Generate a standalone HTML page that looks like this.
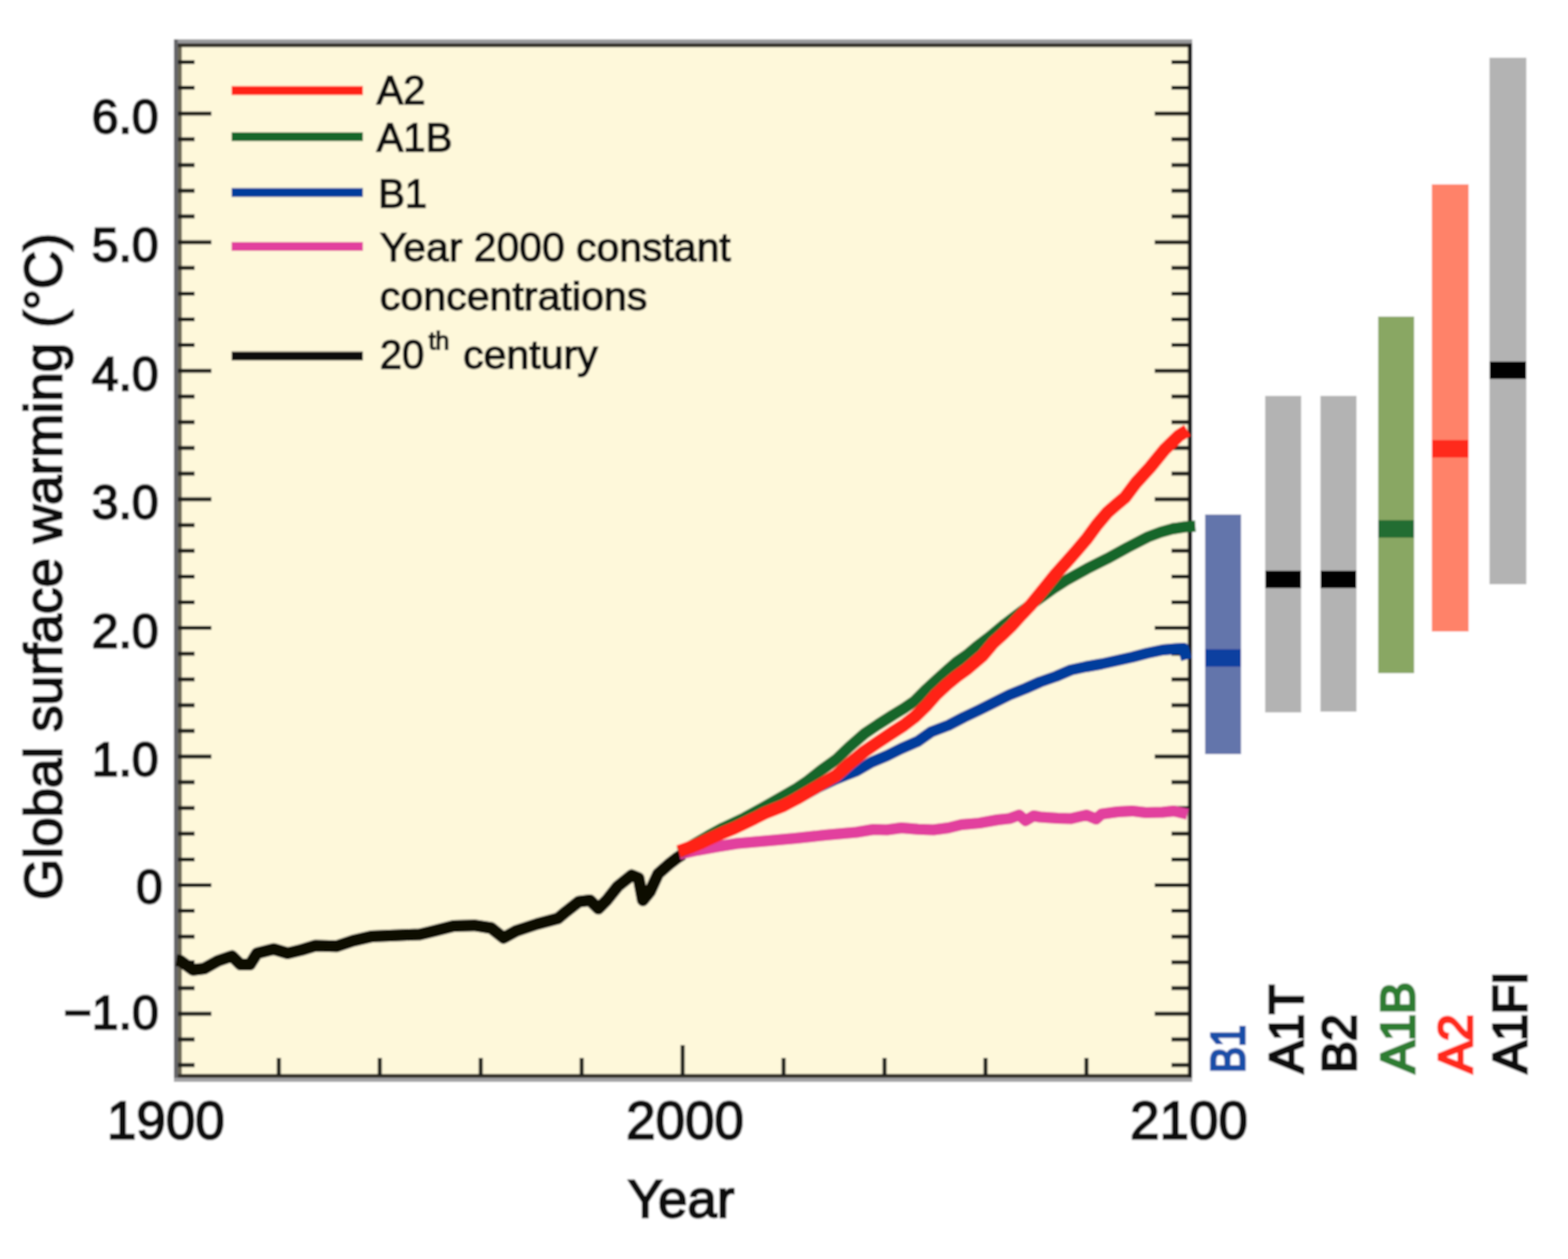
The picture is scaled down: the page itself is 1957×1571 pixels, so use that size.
<!DOCTYPE html>
<html><head><meta charset="utf-8"><title>Global surface warming</title>
<style>html,body{margin:0;padding:0;background:#fff;overflow:hidden;}svg{display:block;}</style>
</head><body>
<svg width="1957" height="1571" viewBox="0 0 1957 1571" font-family="'Liberation Sans', Arial, Helvetica, sans-serif">
<defs><filter id="bl" x="0" y="0" width="1957" height="1571" filterUnits="userSpaceOnUse"><feGaussianBlur stdDeviation="1.3"/></filter></defs>
<g filter="url(#bl)">
<rect width="1957" height="1571" fill="#fff"/>
<rect x="217" y="49" width="1271" height="5" fill="#9a9a9c"/>
<rect x="217" y="49" width="5" height="1301" fill="#656568"/>
<rect x="217" y="1345" width="1271" height="5" fill="#a2a2a4"/>
<rect x="222" y="54" width="1266" height="1291" fill="#34312a"/>
<rect x="222" y="59" width="5" height="1281" fill="#6c6855"/>
<rect x="1482.5" y="54" width="5" height="1291" fill="#1c1c1c"/>
<rect x="227" y="59" width="1255.5" height="1281" fill="#fef8da"/>
<path d="M222 1329.1H243M1462 1329.1H1484M222 1297.1H243M1462 1297.1H1484M222 1265.0H264M1441 1265.0H1484M222 1232.9H243M1462 1232.9H1484M222 1200.8H243M1462 1200.8H1484M222 1168.7H243M1462 1168.7H1484M222 1136.6H243M1462 1136.6H1484M222 1104.5H264M1441 1104.5H1484M222 1072.4H243M1462 1072.4H1484M222 1040.3H243M1462 1040.3H1484M222 1008.2H243M1462 1008.2H1484M222 976.1H243M1462 976.1H1484M222 944.0H264M1441 944.0H1484M222 911.9H243M1462 911.9H1484M222 879.9H243M1462 879.9H1484M222 847.8H243M1462 847.8H1484M222 815.7H243M1462 815.7H1484M222 783.6H264M1441 783.6H1484M222 751.5H243M1462 751.5H1484M222 719.4H243M1462 719.4H1484M222 687.3H243M1462 687.3H1484M222 655.2H243M1462 655.2H1484M222 623.1H264M1441 623.1H1484M222 591.0H243M1462 591.0H1484M222 558.9H243M1462 558.9H1484M222 526.8H243M1462 526.8H1484M222 494.8H243M1462 494.8H1484M222 462.7H264M1441 462.7H1484M222 430.6H243M1462 430.6H1484M222 398.5H243M1462 398.5H1484M222 366.4H243M1462 366.4H1484M222 334.3H243M1462 334.3H1484M222 302.2H264M1441 302.2H1484M222 270.1H243M1462 270.1H1484M222 238.0H243M1462 238.0H1484M222 205.9H243M1462 205.9H1484M222 173.8H243M1462 173.8H1484M222 141.7H264M1441 141.7H1484M222 109.6H243M1462 109.6H1484M222 77.6H243M1462 77.6H1484M348.0 1320V1342M474.0 1320V1342M600.0 1320V1342M726.0 1320V1342M852.0 1304V1342M978.0 1320V1342M1104.0 1320V1342M1230.0 1320V1342M1356.0 1320V1342" stroke="#1c1b17" stroke-width="5" fill="none"/>
<path d="M220.0 1198.2 L225.2 1199.0 L240.8 1210.3 L254.7 1208.6 L272.0 1199.0 L289.5 1193.0 L300.0 1203.4 L312.0 1203.4 L320.8 1189.5 L341.6 1184.3 L359.0 1189.5 L376.4 1185.2 L393.7 1180.0 L419.8 1180.8 L440.6 1173.9 L463.2 1168.6 L498.0 1166.9 L524.0 1166.0 L541.4 1161.7 L566.0 1155.5 L592.0 1154.7 L613.0 1158.0 L628.6 1170.3 L644.2 1161.6 L670.3 1153.0 L696.4 1146.0 L706.8 1137.3 L722.4 1125.1 L736.3 1123.4 L746.7 1133.8 L757.2 1123.4 L771.0 1106.0 L788.4 1092.1 L797.0 1095.6 L802.3 1123.4 L811.0 1113.0 L821.4 1090.4 L835.3 1078.2 L844.0 1071.3 L852.0 1066.0" stroke="#0a0906" stroke-width="15" fill="none" stroke-linejoin="round" stroke-linecap="butt"/>
<path d="M848.0 1066.0 L870.0 1061.0 L895.0 1056.5 L920.0 1052.5 L960.0 1049.0 L993.0 1046.0 L1030.0 1042.0 L1069.0 1038.5 L1090.0 1035.0 L1107.0 1035.5 L1125.0 1033.0 L1145.6 1034.8 L1165.0 1035.5 L1183.8 1033.0 L1200.0 1029.0 L1222.0 1027.1 L1245.0 1023.0 L1260.0 1021.4 L1272.0 1017.0 L1280.0 1024.0 L1290.0 1018.0 L1298.0 1019.5 L1320.0 1021.0 L1337.0 1021.4 L1356.0 1017.0 L1368.0 1022.0 L1375.0 1015.7 L1395.0 1013.0 L1413.0 1011.9 L1430.0 1014.0 L1451.0 1013.5 L1465.0 1012.0 L1482.0 1016.0" stroke="#e2409e" stroke-width="14" fill="none" stroke-linejoin="round" stroke-linecap="butt"/>
<path d="M848.0 1064.0 L875.0 1052.0 L900.0 1040.0 L925.0 1028.0 L950.0 1016.0 L975.0 1005.0 L1000.0 994.0 L1020.0 983.0 L1043.5 972.0 L1056.0 967.0 L1069.0 962.0 L1088.0 951.0 L1107.0 943.0 L1125.0 934.0 L1145.6 925.0 L1162.2 913.3 L1183.8 905.0 L1203.0 895.0 L1222.0 886.0 L1240.0 877.0 L1260.0 867.0 L1280.0 859.0 L1298.0 851.0 L1318.0 844.0 L1336.6 836.0 L1355.0 832.0 L1374.8 828.5 L1395.0 824.0 L1413.0 820.0 L1432.0 815.0 L1451.0 811.0 L1468.0 809.5 L1477.0 809.0 L1481.0 823.0" stroke="#063c9c" stroke-width="14" fill="none" stroke-linejoin="round" stroke-linecap="butt"/>
<path d="M848.0 1064.0 L866.7 1053.0 L884.0 1043.0 L902.4 1033.0 L929.1 1020.5 L952.0 1008.0 L976.7 993.9 L994.5 983.6 L1007.9 974.4 L1025.0 961.0 L1043.5 947.8 L1060.0 932.0 L1079.1 915.4 L1096.0 904.0 L1114.8 892.0 L1128.0 884.0 L1141.5 874.7 L1156.4 859.8 L1168.0 849.0 L1181.8 836.6 L1194.0 826.0 L1207.3 816.9 L1220.0 806.0 L1234.5 795.1 L1254.0 779.0 L1275.0 763.0 L1299.0 745.5 L1315.0 734.0 L1331.0 723.8 L1356.4 709.8 L1381.8 697.1 L1407.3 683.1 L1432.7 670.0 L1448.7 664.0 L1463.0 660.0 L1478.6 657.5 L1492.0 656.5" stroke="#17662a" stroke-width="14" fill="none" stroke-linejoin="round" stroke-linecap="butt"/>
<path d="M847.0 1062.5 L862.0 1057.0 L875.7 1051.3 L889.0 1045.0 L902.4 1039.0 L916.0 1033.5 L929.1 1027.2 L942.0 1021.0 L954.5 1014.6 L966.0 1010.0 L976.7 1005.8 L986.0 1001.0 L994.5 996.5 L1007.9 988.7 L1025.0 978.5 L1043.5 967.8 L1060.0 953.0 L1079.1 937.5 L1096.0 926.0 L1114.8 913.5 L1128.0 905.0 L1141.5 894.7 L1156.4 880.2 L1168.0 867.0 L1181.8 854.1 L1194.0 844.0 L1207.3 834.4 L1226.4 818.1 L1240.2 801.7 L1252.0 791.0 L1263.1 780.2 L1275.0 767.0 L1286.4 755.0 L1305.5 731.5 L1318.0 716.0 L1331.0 701.6 L1343.0 688.0 L1356.4 672.3 L1369.0 655.0 L1381.8 639.8 L1393.0 630.0 L1404.5 620.3 L1417.8 602.5 L1435.7 582.9 L1453.5 561.0 L1471.3 543.7 L1482.0 537.0" stroke="#ff2317" stroke-width="16" fill="none" stroke-linejoin="round" stroke-linecap="butt"/>
<rect x="289" y="107.5" width="164" height="11" fill="#ff2317"/>
<rect x="289" y="165.1" width="164" height="11" fill="#17662a"/>
<rect x="289" y="234.7" width="164" height="11" fill="#063c9c"/>
<rect x="289" y="302.0" width="164" height="11" fill="#e2409e"/>
<rect x="289" y="438.7" width="164" height="11" fill="#0d0b08"/>
<rect x="1504" y="642" width="45" height="299" fill="#6474ab"/>
<rect x="1504" y="810" width="45" height="22" fill="#0a40a0"/>
<rect x="1579" y="494" width="45" height="395" fill="#b3b3b3"/>
<rect x="1579" y="712" width="45" height="22" fill="#050505"/>
<rect x="1648" y="494" width="45" height="394" fill="#b3b3b3"/>
<rect x="1648" y="712" width="45" height="22" fill="#050505"/>
<rect x="1720" y="395" width="45" height="445" fill="#89a763"/>
<rect x="1720" y="649" width="45" height="22" fill="#246d30"/>
<rect x="1787" y="230" width="46" height="558" fill="#ff8269"/>
<rect x="1787" y="549" width="46" height="22" fill="#ff2a1d"/>
<rect x="1859" y="72" width="46" height="657" fill="#b3b3b3"/>
<rect x="1859" y="451" width="46" height="22" fill="#050505"/>
<text x="470" y="130" font-size="50" text-anchor="start" fill="#0b0b0b" stroke="#0b0b0b" stroke-width="1.6" >A2</text>
<text x="470" y="189" font-size="50" text-anchor="start" fill="#0b0b0b" stroke="#0b0b0b" stroke-width="1.6" >A1B</text>
<text x="472" y="259" font-size="50" text-anchor="start" fill="#0b0b0b" stroke="#0b0b0b" stroke-width="1.6" >B1</text>
<text x="474" y="326" font-size="50" text-anchor="start" fill="#0b0b0b" stroke="#0b0b0b" stroke-width="1.6" textLength="438" lengthAdjust="spacingAndGlyphs">Year 2000 constant</text>
<text x="474" y="387" font-size="50" text-anchor="start" fill="#0b0b0b" stroke="#0b0b0b" stroke-width="1.6" textLength="334" lengthAdjust="spacingAndGlyphs">concentrations</text>
<text x="474" y="460" font-size="50" text-anchor="start" fill="#0b0b0b" stroke="#0b0b0b" stroke-width="1.6" >20</text>
<text x="535" y="436" font-size="31" text-anchor="start" fill="#0b0b0b" stroke="#0b0b0b" stroke-width="1.6" >th</text>
<text x="578" y="460" font-size="50" text-anchor="start" fill="#0b0b0b" stroke="#0b0b0b" stroke-width="1.6" textLength="168" lengthAdjust="spacingAndGlyphs">century</text>
<text x="198" y="165.7" font-size="60" text-anchor="end" fill="#0b0b0b" stroke="#0b0b0b" stroke-width="2.4" >6.0</text>
<text x="198" y="326.2" font-size="60" text-anchor="end" fill="#0b0b0b" stroke="#0b0b0b" stroke-width="2.4" >5.0</text>
<text x="198" y="486.7" font-size="60" text-anchor="end" fill="#0b0b0b" stroke="#0b0b0b" stroke-width="2.4" >4.0</text>
<text x="198" y="647.1" font-size="60" text-anchor="end" fill="#0b0b0b" stroke="#0b0b0b" stroke-width="2.4" >3.0</text>
<text x="198" y="807.6" font-size="60" text-anchor="end" fill="#0b0b0b" stroke="#0b0b0b" stroke-width="2.4" >2.0</text>
<text x="198" y="968.0" font-size="60" text-anchor="end" fill="#0b0b0b" stroke="#0b0b0b" stroke-width="2.4" >1.0</text>
<text x="203" y="1126.5" font-size="60" text-anchor="end" fill="#0b0b0b" stroke="#0b0b0b" stroke-width="2.4" >0</text>
<text x="198" y="1284.0" font-size="60" text-anchor="end" fill="#0b0b0b" stroke="#0b0b0b" stroke-width="2.4" >−1.0</text>
<text x="207" y="1421" font-size="66" text-anchor="middle" fill="#0b0b0b" stroke="#0b0b0b" stroke-width="2.4" >1900</text>
<text x="855" y="1421" font-size="66" text-anchor="middle" fill="#0b0b0b" stroke="#0b0b0b" stroke-width="2.4" >2000</text>
<text x="1484" y="1421" font-size="66" text-anchor="middle" fill="#0b0b0b" stroke="#0b0b0b" stroke-width="2.4" >2100</text>
<text x="850" y="1519" font-size="66" text-anchor="middle" fill="#0b0b0b" stroke="#0b0b0b" stroke-width="2.4" >Year</text>
<text transform="translate(77 707) rotate(-90)" font-size="66" text-anchor="middle" fill="#0b0b0b" stroke="#0b0b0b" stroke-width="2.4" textLength="832" lengthAdjust="spacingAndGlyphs">Global surface warming (°C)</text>
<text transform="translate(1553 1339) rotate(-90)" font-size="60" fill="#1a4fa8" stroke="#1a4fa8" stroke-width="3.4" textLength="60" lengthAdjust="spacingAndGlyphs">B1</text>
<text transform="translate(1626 1339) rotate(-90)" font-size="60" fill="#0b0b0b" stroke="#0b0b0b" stroke-width="3.4">A1T</text>
<text transform="translate(1692 1339) rotate(-90)" font-size="60" fill="#0b0b0b" stroke="#0b0b0b" stroke-width="3.4">B2</text>
<text transform="translate(1764.5 1339) rotate(-90)" font-size="60" fill="#2e7d32" stroke="#2e7d32" stroke-width="3.4">A1B</text>
<text transform="translate(1837 1339) rotate(-90)" font-size="60" fill="#ff2a1d" stroke="#ff2a1d" stroke-width="3.4">A2</text>
<text transform="translate(1905 1339) rotate(-90)" font-size="60" fill="#0b0b0b" stroke="#0b0b0b" stroke-width="3.4">A1FI</text>
</g>
</svg>
</body></html>
